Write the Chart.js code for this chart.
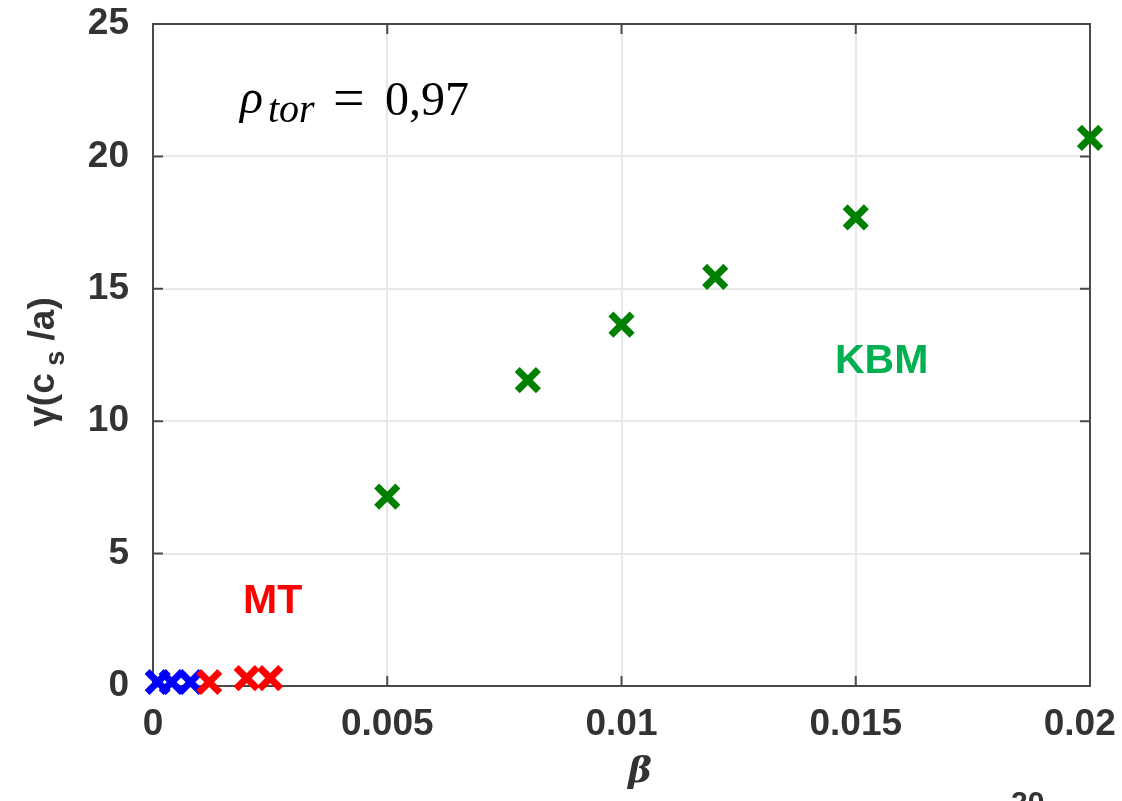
<!DOCTYPE html>
<html>
<head>
<meta charset="utf-8">
<script src="https://cdn.jsdelivr.net/npm/chart.js@4/dist/chart.umd.min.js"></script>
<style>
html,body{margin:0;padding:0;background:#fff;}
canvas{display:block;}
</style>
</head>
<body>
<canvas id="c" width="1122" height="801"></canvas>
<script>
// ---- data ----
const blueBeta  = [0.0001, 0.0004, 0.0008];
const blueGamma = [0.15, 0.15, 0.15];
const redBeta   = [0.0012, 0.0020, 0.0025];
const redGamma  = [0.15, 0.30, 0.30];
const greenBeta  = [0.005, 0.008, 0.010, 0.012, 0.015, 0.020];
const greenGamma = [7.15, 11.55, 13.65, 15.45, 17.7, 20.7];
const xTickValues = [0, 0.005, 0.01, 0.015, 0.02];
const xTickLabels = ['0', '0.005', '0.01', '0.015', '0.02'];
const yTickValues = [0, 5, 10, 15, 20, 25];
const yTickLabels = ['0', '5', '10', '15', '20', '25'];

const pts = (xs, ys) => xs.map((x, i) => ({x: x, y: ys[i]}));
const TICK_FONT = {family: '"Liberation Sans", Arial, sans-serif', size: 37, weight: 'bold'};
const AXIS_COL = '#4a4a4a';

function marker(color) {
  return {
    pointStyle: 'crossRot', pointRadius: 15, pointHoverRadius: 15,
    pointBorderWidth: 7, pointHoverBorderWidth: 7,
    borderColor: color, backgroundColor: color, showLine: false, clip: false
  };
}

const boxPlugin = {
  id: 'box',
  beforeDatasetsDraw(chart) {
    const ctx = chart.ctx, a = chart.chartArea;
    const xs = chart.scales.x, ys = chart.scales.y;
    ctx.save();
    ctx.strokeStyle = AXIS_COL;
    ctx.lineWidth = 2;
    ctx.strokeRect(a.left, a.top, a.right - a.left, a.bottom - a.top);
    const L = 10;
    ctx.beginPath();
    xTickValues.forEach(v => {
      const px = xs.getPixelForValue(v);
      ctx.moveTo(px, a.bottom); ctx.lineTo(px, a.bottom - L);
      ctx.moveTo(px, a.top); ctx.lineTo(px, a.top + L);
    });
    yTickValues.forEach(v => {
      const py = ys.getPixelForValue(v);
      ctx.moveTo(a.left, py); ctx.lineTo(a.left + L, py);
      ctx.moveTo(a.right, py); ctx.lineTo(a.right - L, py);
    });
    ctx.stroke();
    ctx.restore();
  },
  afterDraw(chart) {
    const ctx = chart.ctx;
    ctx.save();
    // y axis title
    ctx.fillStyle = '#333333';
    ctx.translate(54, 362);
    ctx.rotate(-Math.PI / 2);
    ctx.textBaseline = 'alphabetic';
    const big = 'bold 37px "Liberation Sans", Arial, sans-serif';
    const small = 'bold 27px "Liberation Sans", Arial, sans-serif';
    const parts = [['γ(c', big, 0], [' s', small, 10], [' /a)', big, 0]];
    let total = 0;
    parts.forEach(p => { ctx.font = p[1]; total += ctx.measureText(p[0]).width; });
    let x = -total / 2;
    parts.forEach(p => { ctx.font = p[1]; ctx.fillText(p[0], x, p[2]); x += ctx.measureText(p[0]).width; });
    ctx.restore();

    ctx.save();
    // x axis title
    ctx.fillStyle = '#333333';
    ctx.font = 'italic bold 36px "DejaVu Serif", "Liberation Serif", serif';
    ctx.textAlign = 'center';
    ctx.textBaseline = 'alphabetic';
    ctx.fillText('β', 640, 782);

    // rho annotation
    ctx.fillStyle = '#000';
    ctx.textAlign = 'left';
    ctx.font = 'italic 48px "Liberation Serif", "DejaVu Serif", serif';
    ctx.fillText('ρ', 240, 113);
    ctx.font = 'italic 40px "Liberation Serif", "DejaVu Serif", serif';
    ctx.fillText('tor', 268, 122);
    ctx.font = '56px "Liberation Serif", "DejaVu Serif", serif';
    ctx.fillText('=', 333, 117);
    ctx.font = '48px "Liberation Serif", "DejaVu Serif", serif';
    ctx.fillText('0,97', 385, 115);

    // MT / KBM labels
    ctx.font = 'bold 41px "Liberation Sans", Arial, sans-serif';
    ctx.fillStyle = '#ff0000';
    ctx.fillText('MT', 243, 613);
    ctx.fillStyle = '#00b050';
    ctx.fillText('KBM', 835, 373);

    // clipped footnote at bottom edge
    ctx.fillStyle = '#333333';
    ctx.font = 'bold 30px "Liberation Sans", Arial, sans-serif';
    ctx.fillText('20', 1011, 812);
    ctx.restore();
  }
};

new Chart(document.getElementById('c'), {
  type: 'scatter',
  data: {
    datasets: [
      Object.assign({label: 'MT', data: pts(redBeta, redGamma)}, marker('#ff0000')),
      Object.assign({label: 'low', data: pts(blueBeta, blueGamma)}, marker('#0000ff')),
      Object.assign({label: 'KBM', data: pts(greenBeta, greenGamma)}, marker('#008000'))
    ]
  },
  options: {
    responsive: false,
    animation: false,
    layout: {padding: {left: 0, top: 24, right: 32, bottom: 0}},
    plugins: {legend: {display: false}, tooltip: {enabled: false}},
    scales: {
      x: {
        type: 'linear', min: 0, max: 0.02,
        border: {display: false},
        grid: {color: '#e8e8e8', lineWidth: 2, drawTicks: false},
        afterBuildTicks: s => { s.ticks = xTickValues.map(v => ({value: v})); },
        afterFit: s => { s.height = 115; s.paddingLeft = 0; s.paddingRight = 0; },
        ticks: {
          padding: 17, color: '#333333', font: TICK_FONT, maxRotation: 0,
          callback: (v, i) => (i === xTickLabels.length - 1 ? xTickLabels[i] + '  ' : xTickLabels[i])
        }
      },
      y: {
        type: 'linear', min: 0, max: 25,
        border: {display: false},
        grid: {color: '#e8e8e8', lineWidth: 2, drawTicks: false},
        afterBuildTicks: s => { s.ticks = yTickValues.map(v => ({value: v})); },
        afterFit: s => { s.width = 153; s.paddingTop = 0; s.paddingBottom = 0; },
        ticks: {
          padding: 24, color: '#333333', font: TICK_FONT,
          callback: (v, i) => yTickLabels[i]
        }
      }
    }
  },
  plugins: [boxPlugin]
});
</script>
</body>
</html>
